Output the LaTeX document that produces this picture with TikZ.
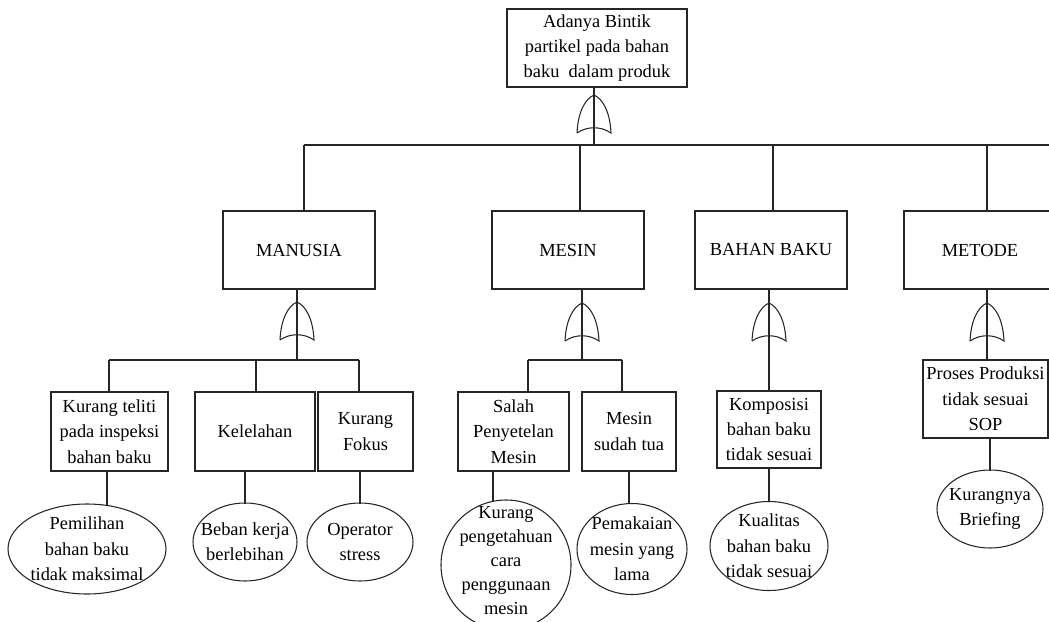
\documentclass[tikz,border=0pt]{standalone}
\usepackage{fontspec}
\setmainfont{Liberation Serif}
\usetikzlibrary{shapes.geometric}
\tikzset{
  base/.style={font=\fontsize{13.8}{19}\selectfont, align=center, inner sep=0pt, text=black},
  rect/.style={base, rectangle, draw=black!85, line width=0.8pt},
  cat/.style={rect, minimum width=114pt, minimum height=58.5pt},
  leaf/.style={rect, minimum height=59.25pt},
  oval/.style={ellipse, draw=black!85, line width=0.8pt, inner sep=0pt},
  lbl/.style={base},
  conn/.style={draw=black!85, line width=0.8pt},
  toell/.style={conn, shorten >=-1pt},
  gateline/.style={draw=black!85, line width=0.8pt},
  orgate/.pic={
    \path[gateline] (-17,0) .. controls (-16,-21) and (-9,-34) .. (0,-38)
      .. controls (9,-34) and (16,-21) .. (17,0)
      .. controls (7,-7) and (-7,-7) .. (-17,0);
  }
}
\begin{document}
\begin{tikzpicture}[x=0.75pt,y=-0.75pt]
\useasboundingbox (0,0) rectangle (1049,621);
\clip (0,0) rectangle (1049,621);

% top event
\node[rect, minimum width=135pt, minimum height=58.5pt] (top) at (597,48)
  {Adanya Bintik\\partikel pada bahan\\baku~ dalam produk};

% category events
\node[cat] (man) at (299,250) {MANUSIA};
\node[cat] (mes) at (568,250) {MESIN};
\node[cat] (bah) at (771,250) {BAHAN BAKU};
\node[cat] (met) at (980,250) {METODE};

% basic causes
\node[leaf, minimum width=87.75pt] (kt) at (109.5,431.5) {Kurang teliti\\pada inspeksi\\bahan baku};
\node[leaf, minimum width=90pt] (kel) at (255,431.5) {Kelelahan};
\node[leaf, minimum width=71.25pt] (kf) at (365.5,431.5) {Kurang\\Fokus};
\node[leaf, minimum width=83.25pt] (sal) at (513.5,431.5) {Salah\\Penyetelan\\Mesin};
\node[leaf, minimum width=70.5pt] (mst) at (629,431.5) {Mesin\\sudah tua};
\node[rect, minimum width=78pt, minimum height=57.75pt] (kom) at (769,429.5) {Komposisi\\bahan baku\\tidak sesuai};
\node[rect, minimum width=93.75pt, minimum height=58.5pt] (pro) at (985.5,399) {Proses Produksi\\tidak sesuai\\SOP};

% root causes (ellipses with their labels)
\node[oval, minimum width=118.5pt, minimum height=67.5pt] (pem) at (87,549) {};
\node[lbl] (pem-t) at (pem) {Pemilihan\\bahan baku\\tidak maksimal};
\node[oval, minimum width=78pt, minimum height=58.5pt] (beb) at (245,542) {};
\node[lbl] (beb-t) at (beb) {Beban kerja\\berlebihan};
\node[oval, minimum width=79.5pt, minimum height=58.5pt] (ops) at (360,542) {};
\node[lbl] (ops-t) at (ops) {Operator\\stress};
\node[oval, minimum width=97.5pt, minimum height=97.5pt] (kp) at (506,565) {};
\node[lbl, font=\fontsize{13.8}{18}\selectfont] (kp-t) at (506,561) {Kurang\\pengetahuan\\cara\\penggunaan\\mesin};
\node[oval, minimum width=82.5pt, minimum height=68.25pt] (pmk) at (632,549) {};
\node[lbl] (pmk-t) at (pmk) {Pemakaian\\mesin yang\\lama};
\node[oval, minimum width=88.5pt, minimum height=66.75pt] (kua) at (769,546) {};
\node[lbl] (kua-t) at (kua) {Kualitas\\bahan baku\\tidak sesuai};
\node[oval, minimum width=79.5pt, minimum height=58.5pt] (brf) at (990,509) {};
\node[lbl] (brf-t) at (brf) {Kurangnya\\Briefing};

% top OR gate and first-level bus
\coordinate (gTop) at (594,133);
\coordinate (busL) at (304,145);
\coordinate (busR) at (1049,145);
\coordinate (dMes) at (580,145);
\coordinate (dBah) at (773,145);
\coordinate (dMet) at (987,145);
\pic at (gTop) {orgate};
\draw[conn] (top.south -| gTop) -- (gTop |- busL);
\draw[conn] (busL) -- (busR);
\draw[conn] (busL) -- (busL |- man.north);
\draw[conn] (dMes) -- (dMes |- mes.north);
\draw[conn] (dBah) -- (dBah |- bah.north);
\draw[conn] (dMet) -- (dMet |- met.north);

% MANUSIA branch
\coordinate (gMan) at (297,340);
\coordinate (bManL) at (109,360);
\coordinate (bKel) at (256,360);
\coordinate (bManR) at (359,360);
\pic at (gMan) {orgate};
\draw[conn] (man.south -| gMan) -- (gMan |- bManL);
\draw[conn] (bManL) -- (bManR);
\draw[conn] (bManL) -- (bManL |- kt.north);
\draw[conn] (bKel) -- (bKel |- kel.north);
\draw[conn] (bManR) -- (bManR |- kf.north);

% MESIN branch
\coordinate (gMes) at (582,341);
\coordinate (bMesL) at (528,360);
\coordinate (bMesR) at (622,360);
\pic at (gMes) {orgate};
\draw[conn] (mes.south -| gMes) -- (gMes |- bMesL);
\draw[conn] (bMesL) -- (bMesR);
\draw[conn] (bMesL) -- (bMesL |- sal.north);
\draw[conn] (bMesR) -- (bMesR |- mst.north);

% BAHAN BAKU branch
\coordinate (gBah) at (769,341);
\pic at (gBah) {orgate};
\draw[conn] (bah.south -| gBah) -- (gBah |- kom.north);

% METODE branch
\coordinate (gMet) at (987,341);
\pic at (gMet) {orgate};
\draw[conn] (met.south -| gMet) -- (gMet |- pro.north);

% links from basic causes to root causes
\coordinate (cKt) at (107,471);
\coordinate (cSal) at (493,471);
\draw[toell] (cKt) -- (cKt |- pem.north);
\draw[toell] (beb.north |- kel.south) -- (beb.north);
\draw[toell] (ops.north |- kf.south) -- (ops.north);
\draw[toell] (cSal) -- (cSal |- kp.north);
\draw[toell] (mst.south) -- (mst.south |- pmk.north);
\draw[toell] (kom.south) -- (kua.north);
\draw[toell] (brf.north |- pro.south) -- (brf.north);
\end{tikzpicture}
\end{document}
